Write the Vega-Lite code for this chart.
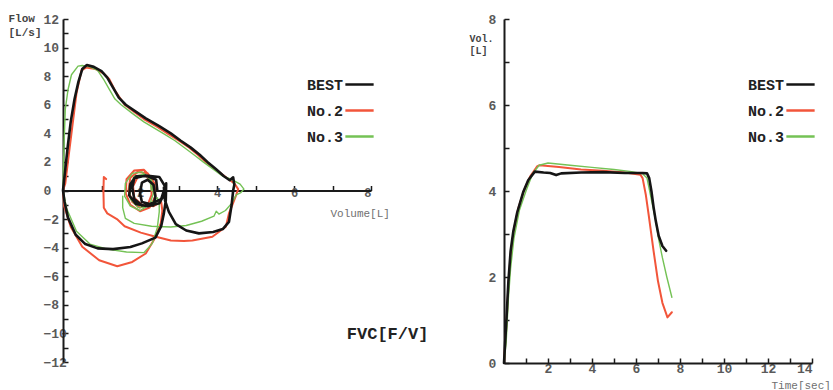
{
  "$schema": "https://vega.github.io/schema/vega-lite/v6.json",
  "background": "white",
  "padding": {"left": 8, "top": 12, "right": 0, "bottom": 0},
  "bounds": "flush",
  "spacing": 133,
  "config": {
    "view": {"stroke": null},
    "axis": {"grid": false, "domainColor": "#1a1a1a", "domainWidth": 2, "tickColor": "#1a1a1a", "tickWidth": 1.5, "tickSize": -5, "labelFont": "Liberation Mono", "labelFontSize": 13, "labelFontWeight": "bold", "labelColor": "#5a5a5a", "titleFont": "Liberation Mono", "titleFontSize": 11, "titleColor": "#555555"},
    "title": {"font": "Liberation Mono", "fontSize": 17, "fontWeight": "bold", "color": "#222222"}
  },
  "resolve": {"legend": {"color": "independent"}},
  "datasets": {
    "fv": [
      {"t":"No.2","i":1,"v":2.35,"f":0.0},{"t":"No.2","i":2,"v":2.3,"f":0.9},{"t":"No.2","i":3,"v":2.1,"f":1.45},{"t":"No.2","i":4,"v":1.85,"f":1.4},{"t":"No.2","i":5,"v":1.65,"f":0.8},{"t":"No.2","i":6,"v":1.63,"f":-0.2},{"t":"No.2","i":7,"v":1.75,"f":-1.0},{"t":"No.2","i":8,"v":2.0,"f":-1.45},{"t":"No.2","i":9,"v":2.25,"f":-1.2},{"t":"No.2","i":10,"v":2.4,"f":-0.4},{"t":"No.2","i":11,"v":2.38,"f":0.5},{"t":"No.2","i":12,"v":2.2,"f":1.2},{"t":"No.2","i":13,"v":1.95,"f":1.3},{"t":"No.2","i":14,"v":1.75,"f":0.9},{"t":"No.2","i":15,"v":1.7,"f":0.0},{"t":"No.2","i":16,"v":1.8,"f":-0.8},{"t":"No.2","i":17,"v":2.0,"f":-1.2},{"t":"No.2","i":18,"v":2.2,"f":-1.0},{"t":"No.2","i":19,"v":2.3,"f":-0.3},{"t":"No.2","i":20,"v":2.3,"f":0.6},{"t":"No.2","i":21,"v":2.15,"f":1.05},{"t":"No.2","i":22,"v":1.95,"f":1.0},{"t":"No.2","i":23,"v":1.82,"f":0.3},{"t":"No.2","i":24,"v":1.85,"f":-0.5},{"t":"No.2","i":25,"v":2.05,"f":-1.0},{"t":"No.2","i":26,"v":2.35,"f":-1.1},{"t":"No.2","i":27,"v":2.55,"f":-0.8},{"t":"No.2","i":28,"v":2.58,"f":-1.4},{"t":"No.2","i":29,"v":2.54,"f":-2.3},{"t":"No.2","i":30,"v":2.36,"f":-3.47},{"t":"No.2","i":31,"v":2.15,"f":-4.41},{"t":"No.2","i":32,"v":1.8,"f":-5.0},{"t":"No.2","i":33,"v":1.41,"f":-5.3},{"t":"No.2","i":34,"v":0.94,"f":-4.88},{"t":"No.2","i":35,"v":0.5,"f":-3.94},{"t":"No.2","i":36,"v":0.2,"f":-2.54},{"t":"No.2","i":37,"v":0.03,"f":-1.1},{"t":"No.2","i":38,"v":0.0,"f":0.0},{"t":"No.2","i":39,"v":0.06,"f":0.5},{"t":"No.2","i":40,"v":0.15,"f":2.5},{"t":"No.2","i":41,"v":0.22,"f":4.0},{"t":"No.2","i":42,"v":0.35,"f":6.8},{"t":"No.2","i":43,"v":0.48,"f":8.4},{"t":"No.2","i":44,"v":0.6,"f":8.6},{"t":"No.2","i":45,"v":0.85,"f":8.5},{"t":"No.2","i":46,"v":1.05,"f":8.2},{"t":"No.2","i":47,"v":1.2,"f":7.8},{"t":"No.2","i":48,"v":1.35,"f":7.0},{"t":"No.2","i":49,"v":1.6,"f":6.0},{"t":"No.2","i":50,"v":1.85,"f":5.5},{"t":"No.2","i":51,"v":2.1,"f":5.0},{"t":"No.2","i":52,"v":2.45,"f":4.45},{"t":"No.2","i":53,"v":2.71,"f":4.0},{"t":"No.2","i":54,"v":3.0,"f":3.5},{"t":"No.2","i":55,"v":3.28,"f":3.0},{"t":"No.2","i":56,"v":3.5,"f":2.5},{"t":"No.2","i":57,"v":3.71,"f":2.0},{"t":"No.2","i":58,"v":3.95,"f":1.5},{"t":"No.2","i":59,"v":4.2,"f":1.0},{"t":"No.2","i":60,"v":4.45,"f":0.5},{"t":"No.2","i":61,"v":4.55,"f":0.1},{"t":"No.2","i":62,"v":4.5,"f":-0.3},{"t":"No.2","i":63,"v":4.4,"f":-1.0},{"t":"No.2","i":64,"v":4.31,"f":-1.6},{"t":"No.2","i":65,"v":4.23,"f":-2.54},{"t":"No.2","i":66,"v":3.88,"f":-3.24},{"t":"No.2","i":67,"v":3.36,"f":-3.5},{"t":"No.2","i":68,"v":3.14,"f":-3.54},{"t":"No.2","i":69,"v":2.8,"f":-3.5},{"t":"No.2","i":70,"v":2.36,"f":-3.2},{"t":"No.2","i":71,"v":2.02,"f":-2.95},{"t":"No.2","i":72,"v":1.6,"f":-2.5},{"t":"No.2","i":73,"v":1.4,"f":-2.0},{"t":"No.2","i":74,"v":1.15,"f":-1.6},{"t":"No.2","i":75,"v":1.06,"f":-1.2},{"t":"No.2","i":76,"v":1.05,"f":0.0},{"t":"No.2","i":77,"v":1.06,"f":0.95},{"t":"No.2","i":78,"v":1.12,"f":0.8},
      {"t":"No.3","i":1,"v":2.3,"f":0.0},{"t":"No.3","i":2,"v":2.25,"f":0.85},{"t":"No.3","i":3,"v":2.05,"f":1.3},{"t":"No.3","i":4,"v":1.8,"f":1.2},{"t":"No.3","i":5,"v":1.62,"f":0.5},{"t":"No.3","i":6,"v":1.6,"f":-0.4},{"t":"No.3","i":7,"v":1.75,"f":-1.1},{"t":"No.3","i":8,"v":2.0,"f":-1.4},{"t":"No.3","i":9,"v":2.25,"f":-1.0},{"t":"No.3","i":10,"v":2.35,"f":-0.2},{"t":"No.3","i":11,"v":2.3,"f":0.7},{"t":"No.3","i":12,"v":2.1,"f":1.15},{"t":"No.3","i":13,"v":1.85,"f":1.0},{"t":"No.3","i":14,"v":1.72,"f":0.3},{"t":"No.3","i":15,"v":1.75,"f":-0.6},{"t":"No.3","i":16,"v":1.95,"f":-1.2},{"t":"No.3","i":17,"v":2.2,"f":-1.1},{"t":"No.3","i":18,"v":2.45,"f":-0.5},{"t":"No.3","i":19,"v":2.5,"f":-1.0},{"t":"No.3","i":20,"v":2.5,"f":-1.5},{"t":"No.3","i":21,"v":2.45,"f":-2.6},{"t":"No.3","i":22,"v":2.32,"f":-3.7},{"t":"No.3","i":23,"v":2.1,"f":-4.35},{"t":"No.3","i":24,"v":1.65,"f":-4.3},{"t":"No.3","i":25,"v":1.15,"f":-4.1},{"t":"No.3","i":26,"v":0.7,"f":-3.75},{"t":"No.3","i":27,"v":0.35,"f":-2.85},{"t":"No.3","i":28,"v":0.1,"f":-1.3},{"t":"No.3","i":29,"v":0.0,"f":0.0},{"t":"No.3","i":30,"v":0.01,"f":1.5},{"t":"No.3","i":31,"v":0.03,"f":3.5},{"t":"No.3","i":32,"v":0.06,"f":5.7},{"t":"No.3","i":33,"v":0.13,"f":7.05},{"t":"No.3","i":34,"v":0.22,"f":8.1},{"t":"No.3","i":35,"v":0.39,"f":8.7},{"t":"No.3","i":36,"v":0.5,"f":8.75},{"t":"No.3","i":37,"v":0.7,"f":8.65},{"t":"No.3","i":38,"v":0.9,"f":8.4},{"t":"No.3","i":39,"v":1.05,"f":7.8},{"t":"No.3","i":40,"v":1.2,"f":7.1},{"t":"No.3","i":41,"v":1.35,"f":6.4},{"t":"No.3","i":42,"v":1.51,"f":6.0},{"t":"No.3","i":43,"v":1.8,"f":5.4},{"t":"No.3","i":44,"v":2.1,"f":4.8},{"t":"No.3","i":45,"v":2.6,"f":4.0},{"t":"No.3","i":46,"v":2.9,"f":3.5},{"t":"No.3","i":47,"v":3.2,"f":2.9},{"t":"No.3","i":48,"v":3.45,"f":2.4},{"t":"No.3","i":49,"v":3.64,"f":2.0},{"t":"No.3","i":50,"v":3.9,"f":1.5},{"t":"No.3","i":51,"v":4.15,"f":1.0},{"t":"No.3","i":52,"v":4.4,"f":0.75},{"t":"No.3","i":53,"v":4.6,"f":0.45},{"t":"No.3","i":54,"v":4.7,"f":0.1},{"t":"No.3","i":55,"v":4.62,"f":-0.15},{"t":"No.3","i":56,"v":4.5,"f":-0.3},{"t":"No.3","i":57,"v":4.38,"f":-0.9},{"t":"No.3","i":58,"v":4.22,"f":-1.4},{"t":"No.3","i":59,"v":4.05,"f":-1.65},{"t":"No.3","i":60,"v":3.98,"f":-1.45},{"t":"No.3","i":61,"v":3.92,"f":-1.8},{"t":"No.3","i":62,"v":3.6,"f":-2.15},{"t":"No.3","i":63,"v":3.2,"f":-2.45},{"t":"No.3","i":64,"v":2.8,"f":-2.55},{"t":"No.3","i":65,"v":2.3,"f":-2.5},{"t":"No.3","i":66,"v":1.85,"f":-2.3},{"t":"No.3","i":67,"v":1.62,"f":-1.95},{"t":"No.3","i":68,"v":1.55,"f":-1.2},{"t":"No.3","i":69,"v":1.55,"f":-0.4},
      {"t":"BEST","i":1,"v":2.45,"f":0.0},{"t":"BEST","i":2,"v":2.42,"f":0.75},{"t":"BEST","i":3,"v":2.2,"f":1.0},{"t":"BEST","i":4,"v":1.9,"f":1.0},{"t":"BEST","i":5,"v":1.75,"f":0.45},{"t":"BEST","i":6,"v":1.72,"f":-0.35},{"t":"BEST","i":7,"v":1.9,"f":-0.95},{"t":"BEST","i":8,"v":2.2,"f":-1.1},{"t":"BEST","i":9,"v":2.5,"f":-0.9},{"t":"BEST","i":10,"v":2.62,"f":-0.3},{"t":"BEST","i":11,"v":2.65,"f":0.3},{"t":"BEST","i":12,"v":2.5,"f":0.95},{"t":"BEST","i":13,"v":2.15,"f":1.05},{"t":"BEST","i":14,"v":1.85,"f":0.85},{"t":"BEST","i":15,"v":1.8,"f":0.2},{"t":"BEST","i":16,"v":1.85,"f":-0.6},{"t":"BEST","i":17,"v":2.05,"f":-1.05},{"t":"BEST","i":18,"v":2.35,"f":-1.05},{"t":"BEST","i":19,"v":2.4,"f":-0.4},{"t":"BEST","i":20,"v":2.35,"f":0.4},{"t":"BEST","i":21,"v":2.2,"f":0.75},{"t":"BEST","i":22,"v":2.05,"f":0.55},{"t":"BEST","i":23,"v":2.0,"f":-0.2},{"t":"BEST","i":24,"v":2.05,"f":-0.8},{"t":"BEST","i":25,"v":2.25,"f":-0.95},{"t":"BEST","i":26,"v":2.55,"f":-0.6},{"t":"BEST","i":27,"v":2.68,"f":0.5},{"t":"BEST","i":28,"v":2.67,"f":-0.7},{"t":"BEST","i":29,"v":2.62,"f":-1.6},{"t":"BEST","i":30,"v":2.55,"f":-2.5},{"t":"BEST","i":31,"v":2.4,"f":-3.3},{"t":"BEST","i":32,"v":2.05,"f":-3.7},{"t":"BEST","i":33,"v":1.75,"f":-3.95},{"t":"BEST","i":34,"v":1.3,"f":-4.1},{"t":"BEST","i":35,"v":0.9,"f":-4.05},{"t":"BEST","i":36,"v":0.58,"f":-3.75},{"t":"BEST","i":37,"v":0.33,"f":-3.1},{"t":"BEST","i":38,"v":0.13,"f":-1.9},{"t":"BEST","i":39,"v":0.04,"f":-0.8},{"t":"BEST","i":40,"v":0.0,"f":0.0},{"t":"BEST","i":41,"v":0.04,"f":1.0},{"t":"BEST","i":42,"v":0.12,"f":3.0},{"t":"BEST","i":43,"v":0.2,"f":4.8},{"t":"BEST","i":44,"v":0.3,"f":6.4},{"t":"BEST","i":45,"v":0.4,"f":7.6},{"t":"BEST","i":46,"v":0.5,"f":8.5},{"t":"BEST","i":47,"v":0.62,"f":8.78},{"t":"BEST","i":48,"v":0.8,"f":8.65},{"t":"BEST","i":49,"v":1.0,"f":8.35},{"t":"BEST","i":50,"v":1.15,"f":7.9},{"t":"BEST","i":51,"v":1.3,"f":7.2},{"t":"BEST","i":52,"v":1.45,"f":6.5},{"t":"BEST","i":53,"v":1.63,"f":6.0},{"t":"BEST","i":54,"v":1.9,"f":5.5},{"t":"BEST","i":55,"v":2.15,"f":5.05},{"t":"BEST","i":56,"v":2.5,"f":4.5},{"t":"BEST","i":57,"v":2.8,"f":4.0},{"t":"BEST","i":58,"v":3.05,"f":3.5},{"t":"BEST","i":59,"v":3.32,"f":3.0},{"t":"BEST","i":60,"v":3.55,"f":2.5},{"t":"BEST","i":61,"v":3.75,"f":2.0},{"t":"BEST","i":62,"v":3.97,"f":1.5},{"t":"BEST","i":63,"v":4.18,"f":1.0},{"t":"BEST","i":64,"v":4.33,"f":0.72},{"t":"BEST","i":65,"v":4.42,"f":0.92},{"t":"BEST","i":66,"v":4.45,"f":0.4},{"t":"BEST","i":67,"v":4.42,"f":0.0},{"t":"BEST","i":68,"v":4.38,"f":-1.0},{"t":"BEST","i":69,"v":4.31,"f":-2.2},{"t":"BEST","i":70,"v":4.15,"f":-2.7},{"t":"BEST","i":71,"v":3.9,"f":-2.9},{"t":"BEST","i":72,"v":3.53,"f":-3.0},{"t":"BEST","i":73,"v":3.2,"f":-2.8},{"t":"BEST","i":74,"v":2.93,"f":-2.35},{"t":"BEST","i":75,"v":2.75,"f":-1.5},{"t":"BEST","i":76,"v":2.65,"f":-0.7},{"t":"BEST","i":77,"v":2.62,"f":0.2}
    ],
    "vt": [
      {"t":"No.2","i":1,"s":0,"v":0},{"t":"No.2","i":2,"s":0.1,"v":0.8},{"t":"No.2","i":3,"s":0.2,"v":1.8},{"t":"No.2","i":4,"s":0.3,"v":2.5},{"t":"No.2","i":5,"s":0.45,"v":3.1},{"t":"No.2","i":6,"s":0.65,"v":3.6},{"t":"No.2","i":7,"s":0.9,"v":4.0},{"t":"No.2","i":8,"s":1.2,"v":4.35},{"t":"No.2","i":9,"s":1.5,"v":4.57},{"t":"No.2","i":10,"s":1.62,"v":4.6},{"t":"No.2","i":11,"s":2.5,"v":4.56},{"t":"No.2","i":12,"s":3.5,"v":4.5},{"t":"No.2","i":13,"s":4.5,"v":4.47},{"t":"No.2","i":14,"s":5.5,"v":4.43},{"t":"No.2","i":15,"s":6.2,"v":4.38},{"t":"No.2","i":16,"s":6.3,"v":4.3},{"t":"No.2","i":17,"s":6.45,"v":3.9},{"t":"No.2","i":18,"s":6.58,"v":3.43},{"t":"No.2","i":19,"s":6.8,"v":2.6},{"t":"No.2","i":20,"s":7.0,"v":1.9},{"t":"No.2","i":21,"s":7.2,"v":1.4},{"t":"No.2","i":22,"s":7.43,"v":1.06},{"t":"No.2","i":23,"s":7.63,"v":1.18},
      {"t":"No.3","i":1,"s":0,"v":0},{"t":"No.3","i":2,"s":0.1,"v":0.5},{"t":"No.3","i":3,"s":0.2,"v":1.5},{"t":"No.3","i":4,"s":0.3,"v":2.2},{"t":"No.3","i":5,"s":0.45,"v":2.9},{"t":"No.3","i":6,"s":0.7,"v":3.55},{"t":"No.3","i":7,"s":1.0,"v":4.0},{"t":"No.3","i":8,"s":1.3,"v":4.4},{"t":"No.3","i":9,"s":1.6,"v":4.6},{"t":"No.3","i":10,"s":2.0,"v":4.65},{"t":"No.3","i":11,"s":3.0,"v":4.6},{"t":"No.3","i":12,"s":4.0,"v":4.55},{"t":"No.3","i":13,"s":5.0,"v":4.5},{"t":"No.3","i":14,"s":5.8,"v":4.45},{"t":"No.3","i":15,"s":6.3,"v":4.4},{"t":"No.3","i":16,"s":6.5,"v":4.3},{"t":"No.3","i":17,"s":6.7,"v":3.8},{"t":"No.3","i":18,"s":6.9,"v":3.3},{"t":"No.3","i":19,"s":7.03,"v":2.88},{"t":"No.3","i":20,"s":7.2,"v":2.45},{"t":"No.3","i":21,"s":7.4,"v":2.0},{"t":"No.3","i":22,"s":7.63,"v":1.53},
      {"t":"BEST","i":1,"s":0,"v":0},{"t":"BEST","i":2,"s":0.1,"v":0.9},{"t":"BEST","i":3,"s":0.2,"v":1.9},{"t":"BEST","i":4,"s":0.3,"v":2.6},{"t":"BEST","i":5,"s":0.42,"v":3.05},{"t":"BEST","i":6,"s":0.6,"v":3.5},{"t":"BEST","i":7,"s":0.87,"v":3.97},{"t":"BEST","i":8,"s":1.1,"v":4.25},{"t":"BEST","i":9,"s":1.4,"v":4.45},{"t":"BEST","i":10,"s":1.8,"v":4.43},{"t":"BEST","i":11,"s":2.1,"v":4.42},{"t":"BEST","i":12,"s":2.37,"v":4.37},{"t":"BEST","i":13,"s":2.6,"v":4.41},{"t":"BEST","i":14,"s":3.5,"v":4.43},{"t":"BEST","i":15,"s":4.5,"v":4.44},{"t":"BEST","i":16,"s":5.5,"v":4.42},{"t":"BEST","i":17,"s":6.3,"v":4.42},{"t":"BEST","i":18,"s":6.5,"v":4.41},{"t":"BEST","i":19,"s":6.6,"v":4.3},{"t":"BEST","i":20,"s":6.7,"v":4.0},{"t":"BEST","i":21,"s":6.8,"v":3.62},{"t":"BEST","i":22,"s":6.9,"v":3.3},{"t":"BEST","i":23,"s":7.03,"v":2.96},{"t":"BEST","i":24,"s":7.2,"v":2.72},{"t":"BEST","i":25,"s":7.37,"v":2.61}
    ]
  },
  "hconcat": [
    {
      "width": 308,
      "height": 343,
      "data": {"name": "fv"},
      "title": {"text": "FVC[F/V]", "orient": "bottom", "anchor": "end", "dx": 39, "offset": -43},
      "mark": {"type": "line", "strokeJoin": "round", "strokeCap": "round"},
      "encoding": {
        "x": {"field": "v", "type": "quantitative", "scale": {"domain": [0, 8], "nice": false, "zero": false},
          "axis": {"values": [1,2,3,4,5,6,7,8], "labelExpr": "datum.value % 2 === 0 ? datum.label : ''", "offset": -171.5, "labelPadding": 2, "labelFontSize": 12,
            "title": "Volume[L]", "titleX": 267, "titleY": 23, "titleAlign": "left", "titleBaseline": "middle", "titleFontWeight": "normal", "titleColor": "#707070"}},
        "y": {"field": "f", "type": "quantitative", "scale": {"domain": [-12, 12], "nice": false},
          "axis": {"values": [-12,-11,-10,-9,-8,-7,-6,-5,-4,-3,-2,-1,0,1,2,3,4,5,6,7,8,9,10,11,12], "labelExpr": "datum.value % 2 === 0 ? datum.label : ''", "labelAlign": "left", "labelPadding": 25,
            "title": ["Flow", "[L/s]"], "titleAngle": 0, "titleX": -55, "titleY": -7, "titleAlign": "left", "titleBaseline": "top", "titleLineHeight": 14, "titleFontWeight": "bold", "titleColor": "#444444", "titleFontSize": 11}},
        "color": {"field": "t", "type": "nominal", "scale": {"domain": ["BEST", "No.2", "No.3"], "range": ["#151515", "#f2553a", "#74c255"]},
          "legend": {"title": null, "orient": "none", "legendX": 281, "legendY": 50, "symbolType": "stroke", "symbolSize": 800, "symbolStrokeWidth": 2.5, "labelFont": "Liberation Mono", "labelFontWeight": "bold", "labelFontSize": 15, "labelColor": "#222222", "labelAlign": "right", "labelOffset": -32, "rowPadding": 2}},
        "strokeWidth": {"field": "t", "type": "nominal", "scale": {"domain": ["BEST", "No.2", "No.3"], "range": [2.6, 1.4, 1.4]}, "legend": null},
        "order": {"field": "i", "type": "quantitative"}
      }
    },
    {
      "width": 308,
      "height": 344,
      "data": {"name": "vt"},
      "mark": {"type": "line", "strokeJoin": "round", "strokeCap": "round"},
      "encoding": {
        "x": {"field": "s", "type": "quantitative", "scale": {"domain": [0, 14], "nice": false, "zero": false},
          "axis": {"values": [1,2,3,4,5,6,7,8,9,10,11,12,13,14], "labelExpr": "datum.value % 2 === 0 ? datum.label : ''", "labelPadding": 4,
            "title": "Time[sec]", "titleX": 267, "titleY": 22, "titleAlign": "left", "titleBaseline": "middle", "titleFontWeight": "normal", "titleColor": "#707070"}},
        "y": {"field": "v", "type": "quantitative", "scale": {"domain": [0, 8], "nice": false},
          "axis": {"values": [0,1,2,3,4,5,6,7,8], "labelExpr": "datum.value % 2 === 0 ? datum.label : ''", "labelAlign": "left", "labelPadding": 21,
            "title": ["Vol.", "[L]"], "titleAngle": 0, "titleX": -35, "titleY": 14, "titleAlign": "left", "titleBaseline": "top", "titleLineHeight": 12, "titleFontWeight": "bold", "titleColor": "#444444", "titleFontSize": 10}},
        "color": {"field": "t", "type": "nominal", "scale": {"domain": ["BEST", "No.2", "No.3"], "range": ["#151515", "#f2553a", "#74c255"]},
          "legend": {"title": null, "orient": "none", "legendX": 281, "legendY": 50, "symbolType": "stroke", "symbolSize": 800, "symbolStrokeWidth": 2.5, "labelFont": "Liberation Mono", "labelFontWeight": "bold", "labelFontSize": 15, "labelColor": "#222222", "labelAlign": "right", "labelOffset": -32, "rowPadding": 2}},
        "strokeWidth": {"field": "t", "type": "nominal", "scale": {"domain": ["BEST", "No.2", "No.3"], "range": [2.8, 1.4, 1.4]}, "legend": null},
        "order": {"field": "i", "type": "quantitative"}
      }
    }
  ]
}
